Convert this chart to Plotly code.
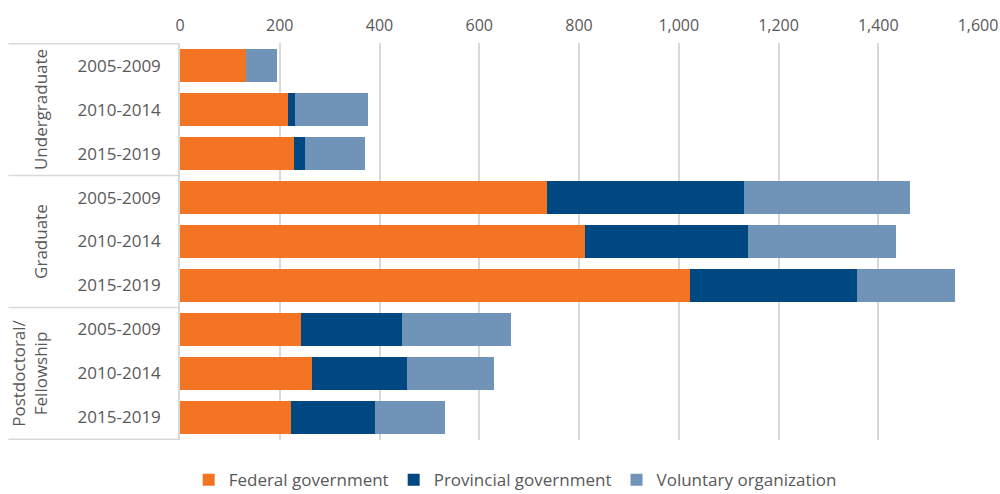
import plotly.graph_objects as go

# categories
groups = ['Undergraduate', 'Graduate', 'Postdoctoral/<br>Fellowship']
periods = ['2005-2009', '2010-2014', '2015-2019']

# values, in group order then period order
federal = [132, 216, 228, 736, 812, 1023, 243, 265, 223]
provincial = [0, 15, 23, 394, 326, 334, 203, 191, 168]
voluntary = [62, 145, 120, 333, 297, 197, 217, 173, 140]

series_names = ['Federal government', 'Provincial government', 'Voluntary organization']
series_colors = ['#F37422', '#004882', '#7094B8']

x_ticks = [0, 200, 400, 600, 800, 1000, 1200, 1400, 1600]

# unique y keys, displayed with just the period text
y_keys = [g + '|' + p for g in groups for p in periods]
y_text = [p for g in groups for p in periods]

fig = go.Figure()
for name, vals, col in zip(series_names, [federal, provincial, voluntary], series_colors):
    fig.add_trace(go.Bar(
        y=y_keys,
        x=vals,
        name=name,
        orientation='h',
        marker=dict(color=col, line=dict(width=0)),
    ))

grey_line = '#D9D9D9'
text_col = '#595959'
left_edge = -0.215  # box border start, paper units

# group separators and rotated group labels
n = len(periods)
shapes = []
annotations = []
for i, g in enumerate(groups):
    shapes.append(dict(type='line', xref='paper', yref='y',
                       x0=left_edge, x1=0, y0=i * n - 0.5, y1=i * n - 0.5,
                       line=dict(color=grey_line, width=1.5)))
    annotations.append(dict(text=g, xref='paper', yref='y',
                            x=-0.158, y=i * n + (n - 1) / 2,
                            xanchor='right', yanchor='middle',
                            textangle=-90, showarrow=False,
                            font=dict(size=17, color=text_col)))
shapes.append(dict(type='line', xref='paper', yref='y',
                   x0=left_edge, x1=0, y0=len(groups) * n - 0.5, y1=len(groups) * n - 0.5,
                   line=dict(color=grey_line, width=1.5)))

fig.update_layout(
    barmode='stack',
    bargap=0.25,
    width=1000,
    height=494,
    margin=dict(l=180, r=22, t=43, b=54),
    plot_bgcolor='white',
    paper_bgcolor='white',
    font=dict(family='Open Sans, Noto Sans, sans-serif', size=17, color=text_col),
    xaxis=dict(
        side='top',
        range=[0, 1600],
        tickvals=x_ticks,
        tickformat=',',
        tickfont=dict(size=16),
        showgrid=True,
        gridcolor=grey_line,
        gridwidth=1.5,
        zeroline=False,
        ticklabelstandoff=8,
        automargin=False,
    ),
    yaxis=dict(
        type='category',
        categoryorder='array',
        categoryarray=y_keys,
        tickvals=y_keys,
        ticktext=y_text,
        autorange='reversed',
        showline=True,
        linecolor=grey_line,
        linewidth=1.5,
        showgrid=False,
        ticklabelstandoff=14,
        automargin=False,
    ),
    legend=dict(
        orientation='h',
        x=0.42,
        xanchor='center',
        yref='container',
        y=0.028,
        yanchor='middle',
        font=dict(size=17, color=text_col),
        traceorder='normal',
    ),
    shapes=shapes,
    annotations=annotations,
)

# drop the page's default body margin so the figure sits at the window corner
fig.write_html("out.html", config={'displayModeBar': False},
               post_script="document.body.style.margin='0';")
